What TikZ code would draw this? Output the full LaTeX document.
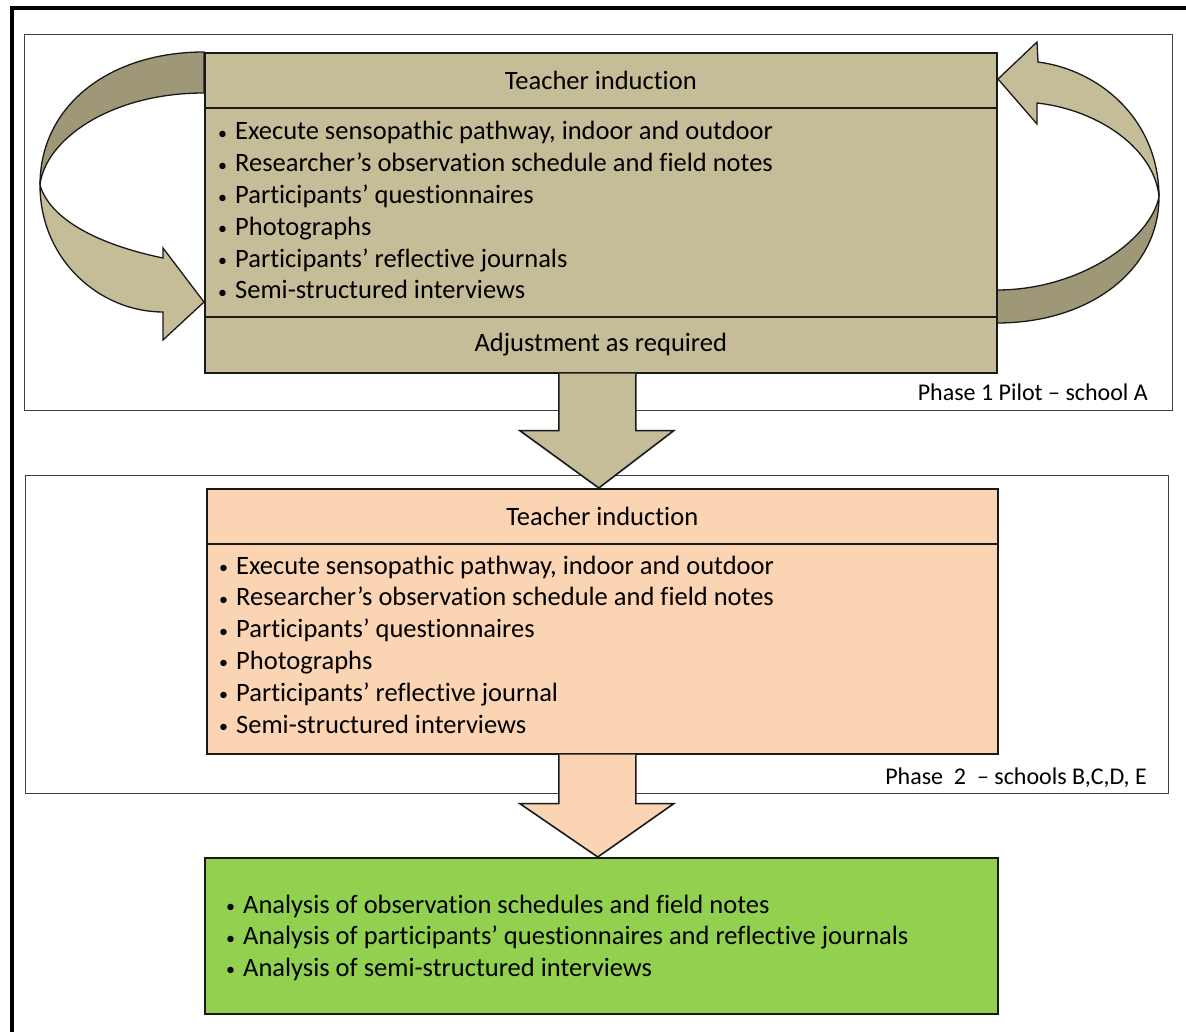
\documentclass[tikz,border=0pt]{standalone}
\usepackage{fontspec}
\setmainfont{Carlito}[Ligatures={TeX,NoCommon}]
\usetikzlibrary{calc}
\definecolor{tanfill}{HTML}{C4BD97}
\definecolor{tandark}{HTML}{9E9778}
\definecolor{peach}{HTML}{FBD4B4}
\definecolor{leaf}{HTML}{92D050}
% small list bullet followed by the indent of the item text
\newcommand{\itembullet}{\makebox[17pt][l]{\raisebox{0.5pt}{\fontsize{18}{18}\selectfont •}}}
\begin{document}
\begin{tikzpicture}[x=1pt,y=-1pt,
  boxline/.style={draw=black!90, line width=1.6pt},
  panel/.style={draw=black!75, line width=0.9pt, rectangle, inner sep=0pt, anchor=north west},
  block/.style={boxline, rectangle, inner sep=0pt, anchor=north west, minimum width=792pt,
                font=\fontsize{26.5}{32}\selectfont},
  itemtext/.style={anchor=base west, inner sep=0pt, font=\fontsize{26.5}{32}\selectfont},
  phaselabel/.style={anchor=base east, inner sep=0pt, font=\fontsize{24}{28}\selectfont},
  ribbon/.style={draw=black!90, line width=1.3pt, line join=miter},
  blockarrow/.style={draw=black!90, line width=1.6pt, line join=miter}]
\useasboundingbox (0,0) rectangle (1186,1032);

% outer frame (top and left edges)
\draw[line width=4pt] (12,1032) -- (12,8) -- (1186,8);

% phase panels
\node[panel, minimum width=1148pt, minimum height=376pt] (ph1) at (24,34) {};
\node[panel, minimum width=1143pt, minimum height=318pt] (ph2) at (25,475) {};
\node[phaselabel] (lab1) at (1148,400) {Phase 1 Pilot – school A};
\node[phaselabel] (lab2) at (1147,784) {Phase\ \ 2\ \ – schools B,C,D, E};

% left loop arrow: back side, then front side with head
\draw[ribbon, fill=tandark] (204,52) .. controls (110,52) and (40,105) .. (40,185)
  .. controls (45,140) and (110,93) .. (204,93) -- cycle;
\draw[ribbon, fill=tanfill] (40,185) .. controls (40,260) and (100,312) .. (163,312)
  -- (163,340) -- (204,302) -- (163,248) -- (163,258)
  .. controls (100,245) and (50,220) .. (40,185) -- cycle;

% right loop arrow: back side, then front side with head
\draw[ribbon, fill=tandark] (997,323) .. controls (1090,323) and (1159,270) .. (1159,197)
  .. controls (1150,240) and (1080,290) .. (997,290) -- cycle;
\draw[ribbon, fill=tanfill] (1159,197) .. controls (1159,120) and (1100,70) .. (1038,62)
  -- (1037,42) -- (998,79) -- (1037,124) -- (1037,103)
  .. controls (1100,110) and (1155,150) .. (1159,197) -- cycle;

% phase 1 block
\node[block, fill=tanfill, minimum height=55pt] (h1) at (204,52) {Teacher induction};
\node[block, fill=tanfill, minimum height=209pt] (b1) at (204,107) {};
\node[block, fill=tanfill, minimum height=56pt] (f1) at (204,316) {Adjustment as required};
\foreach \t [count=\i] in {{Execute sensopathic pathway, indoor and outdoor},
    {Researcher’s observation schedule and field notes},
    {Participants’ questionnaires},
    {Photographs},
    {Participants’ reflective journals},
    {Semi-structured interviews}}
  \node[itemtext] (ta\i) at (218,{140+31.8*(\i-1)}) {\itembullet\t};

% phase 2 block
\node[block, fill=peach, minimum width=791pt, minimum height=55pt] (h2) at (206,488) {Teacher induction};
\node[block, fill=peach, minimum width=791pt, minimum height=210pt] (b2) at (206,543) {};
\foreach \t [count=\i] in {{Execute sensopathic pathway, indoor and outdoor},
    {Researcher’s observation schedule and field notes},
    {Participants’ questionnaires},
    {Photographs},
    {Participants’ reflective journal},
    {Semi-structured interviews}}
  \node[itemtext] (tb\i) at (219,{574+31.8*(\i-1)}) {\itembullet\t};

% analysis block
\node[block, fill=leaf, minimum width=793pt, minimum height=156pt] (g) at (204,857) {};
\foreach \t [count=\i] in {{Analysis of observation schedules and field notes},
    {Analysis of participants' questionnaires and reflective journals},
    {Analysis of semi-structured interviews}}
  \node[itemtext] (tc\i) at (226,{913+31.6*(\i-1)}) {\itembullet\t};

% block arrows between the stages
\draw[blockarrow, fill=tanfill] ($(f1.south)+(-42,0)$) -- ++(0,57) -- ++(-39,0)
  -- ($(h2.north)+(-3.5,0)$) -- ($(f1.south)+(73,57)$) -- ++(-38,0)
  -- ($(f1.south)+(35,0)$);
\draw[blockarrow, fill=peach] ($(b2.south)+(-43.5,0)$) -- ++(0,49) -- ++(-39,0)
  -- ($(g.north)+(-3.5,0)$) -- ($(b2.south)+(71.5,49)$) -- ++(-38,0)
  -- ($(b2.south)+(33.5,0)$);
\end{tikzpicture}
\end{document}
